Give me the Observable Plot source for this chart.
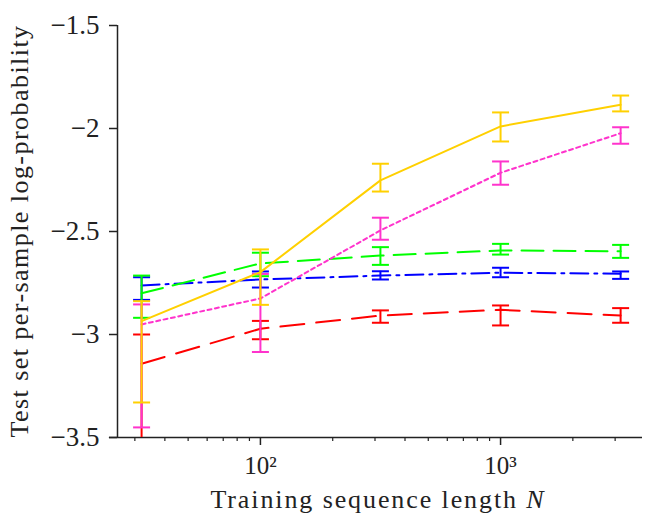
<!DOCTYPE html>
<html>
<head>
<meta charset="utf-8">
<script src="https://cdn.jsdelivr.net/npm/d3@7"></script>
<script src="https://cdn.jsdelivr.net/npm/@observablehq/plot@0.6"></script>
<style>
  html, body { margin: 0; padding: 0; background: #fff; }
  #chart svg { display: block; }
</style>
</head>
<body>
<div id="chart"></div>
<script>
// Training sequence lengths N
const N = [32, 100, 316, 1000, 3162];

// Series (mean, lower, upper)
const redY    = [-3.142, -2.972, -2.908, -2.880, -2.908];
const redLo   = [-3.600, -3.023, -2.943, -2.956, -2.943];
const redHi   = [-3.000, -2.934, -2.883, -2.859, -2.872];

const blueY   = [-2.762, -2.733, -2.714, -2.700, -2.705];
const blueLo  = [-2.832, -2.772, -2.733, -2.722, -2.730];
const blueHi  = [-2.722, -2.694, -2.693, -2.676, -2.694];

const greenY  = [-2.800, -2.655, -2.617, -2.592, -2.596];
const greenLo = [-2.919, -2.717, -2.662, -2.612, -2.628];
const greenHi = [-2.714, -2.603, -2.576, -2.560, -2.565];

const pinkY   = [-2.951, -2.825, -2.495, -2.215, -2.023];
const pinkLo  = [-3.451, -3.085, -2.540, -2.273, -2.074];
const pinkHi  = [-2.854, -2.706, -2.433, -2.160, -1.994];

const goldY   = [-2.935, -2.697, -2.252, -1.990, -1.885];
const goldLo  = [-3.330, -2.856, -2.306, -2.063, -1.917];
const goldHi  = [-2.838, -2.587, -2.171, -1.922, -1.840];

const yTicks = [-3.5, -3, -2.5, -2, -1.5];
const xMajor = [100, 1000];
const xMajorLabels = ["10²", "10³"];
const xMinor = [30, 40, 50, 60, 70, 80, 90, 200, 300, 400, 500, 600, 700, 800, 900, 2000, 3000];
const xDomain = [25.4, 3900];
const xAxisStart = 23.5;
const yDomain = [-3.5, -1.5];

const series = [
  {y: redY,   lo: redLo,   hi: redHi,   color: "#ff0000", dash: "24,12"},
  {y: blueY,  lo: blueLo,  hi: blueHi,  color: "#0000ff", dash: "18,6,3,6"},
  {y: greenY, lo: greenLo, hi: greenHi, color: "#00ff00", dash: "22,10"},
  {y: pinkY,  lo: pinkLo,  hi: pinkHi,  color: "#ff33cc", dash: "4,3.5"},
  {y: goldY,  lo: goldLo,  hi: goldHi,  color: "#ffd000", dash: null}
];

const capSymbol = {
  draw(ctx) { ctx.moveTo(-8.5, 0); ctx.lineTo(8.5, 0); }
};

const FONT = "'Liberation Serif', 'DejaVu Serif', serif";
const INK = "#222";

const marks = [];
for (const s of series) {
  const rows = N.map((n, i) => ({n, y: s.y[i], lo: s.lo[i], hi: s.hi[i]}));
  marks.push(Plot.line(rows, {x: "n", y: "y", stroke: s.color, strokeWidth: 2, strokeDasharray: s.dash || undefined, clip: true}));
  marks.push(Plot.ruleX(rows, {x: "n", y1: "lo", y2: "hi", stroke: s.color, strokeWidth: 2, clip: true}));
  marks.push(Plot.dot(rows, {x: "n", y: "lo", symbol: capSymbol, fill: "none", stroke: s.color, strokeWidth: 2, clip: true}));
  marks.push(Plot.dot(rows, {x: "n", y: "hi", symbol: capSymbol, fill: "none", stroke: s.color, strokeWidth: 2, clip: true}));
}

// axes
const axisMarks = [
  Plot.ruleX([xDomain[0]], {y1: yDomain[0], y2: yDomain[1], stroke: INK, strokeWidth: 1.5}),
  Plot.ruleY([yDomain[0]], {x1: xAxisStart, x2: xDomain[1], stroke: INK, strokeWidth: 1.5}),
  Plot.axisY({ticks: yTicks, tickSize: 8, tickPadding: 10, stroke: INK, strokeWidth: 1.5, fill: INK,
    tickFormat: d => (d < 0 ? "\u2212" : "") + Math.abs(d), fontSize: 27, fontFamily: FONT, label: null}),
  Plot.axisX({ticks: xMajor, tickSize: 8, tickPadding: 11, stroke: INK, strokeWidth: 1.5, fill: INK,
    tickFormat: d => xMajorLabels[xMajor.indexOf(d)], fontSize: 25, fontFamily: FONT, label: null}),
  Plot.axisX({ticks: xMinor, tickSize: 4, stroke: INK, strokeWidth: 1.2, tickFormat: () => "", label: null}),
  // axis titles
  (index, scales, values, dims) => {
    const g = d3.create("svg:g").attr("font-family", FONT).attr("fill", INK);
    const t = g.append("text").attr("x", 378).attr("y", 508).attr("text-anchor", "middle")
      .attr("font-size", 26).attr("letter-spacing", 1.9);
    t.append("tspan").text("Training sequence length ");
    t.append("tspan").attr("font-style", "italic").text("N");
    const cy = (dims.marginTop + dims.height - dims.marginBottom) / 2;
    g.append("text").attr("transform", `translate(28,${cy}) rotate(-90)`).attr("text-anchor", "middle")
      .attr("font-size", 26).attr("letter-spacing", 1.45).text("Test set per-sample log-probability");
    return g.node();
  }
];

const chart = Plot.plot({
  width: 664,
  height: 520,
  marginLeft: 117,
  marginRight: 22,
  marginTop: 25,
  marginBottom: 83,
  style: {fontFamily: FONT, color: INK, background: "white"},
  x: {type: "log", domain: xDomain},
  y: {domain: yDomain},
  marks: [...axisMarks.slice(0, 2), ...marks, ...axisMarks.slice(2)]
});
document.getElementById("chart").appendChild(chart);
</script>
</body>
</html>
